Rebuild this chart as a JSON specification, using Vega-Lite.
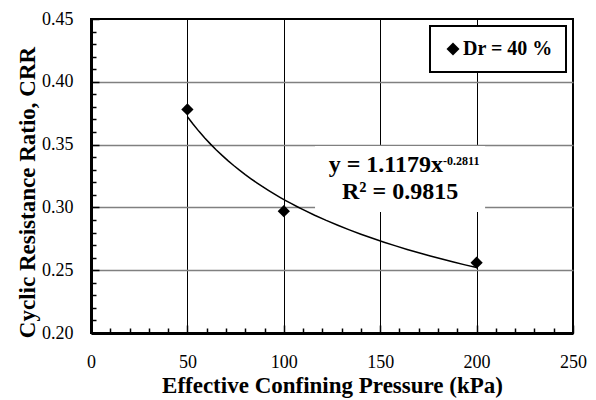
{
  "$schema": "https://vega.github.io/schema/vega-lite/v6.json",
  "autosize": {"type": "none"},
  "padding": {"left": 91, "top": 19, "right": 23, "bottom": 67},
  "width": 482,
  "height": 314,
  "background": "white",
  "config": {
    "view": {"stroke": "black", "strokeWidth": 2},
    "font": "Liberation Serif",
    "legend": {"strokeWidth": 2}
  },
  "datasets": {
    "tests": [
      {"p": 50, "crr": 0.378, "series": "Dr = 40 %"},
      {"p": 100, "crr": 0.297, "series": "Dr = 40 %"},
      {"p": 200, "crr": 0.256, "series": "Dr = 40 %"}
    ],
    "note": [{"label": "fit"}]
  },
  "encoding": {
    "x": {
      "type": "quantitative",
      "scale": {"domain": [0, 250], "nice": false, "zero": false},
      "axis": {
        "title": "Effective Confining Pressure (kPa)",
        "titleFont": "Liberation Serif",
        "titleFontSize": 23,
        "titleFontWeight": "bold",
        "titleColor": "black",
        "titlePadding": 0,
        "values": [0,10,20,30,40,50,60,70,80,90,100,110,120,130,140,150,160,170,180,190,200,210,220,230,240,250],
        "labelExpr": "datum.value % 50 === 0 ? datum.label : ''",
        "labelOverlap": false,
        "labelFlush": false,
        "labelFont": "Liberation Serif",
        "labelFontSize": 18,
        "labelColor": "black",
        "labelPadding": 28,
        "domainColor": "black",
        "domainWidth": 3,
        "tickColor": "black",
        "tickWidth": 1.5,
        "tickSize": {"condition": {"test": "datum.value % 50 === 0", "value": -8}, "value": -5},
        "grid": true,
        "gridColor": "black",
        "gridWidth": 1,
        "gridOpacity": {"condition": {"test": "datum.value % 50 === 0 && datum.value > 0 && datum.value < 250", "value": 1}, "value": 0}
      }
    },
    "y": {
      "type": "quantitative",
      "scale": {"domain": [0.2, 0.45], "nice": false, "zero": false},
      "axis": {
        "title": "Cyclic Resistance Ratio, CRR",
        "titleFont": "Liberation Serif",
        "titleFontSize": 23,
        "titleFontWeight": "bold",
        "titleColor": "black",
        "titlePadding": 2,
        "titleY": 173,
        "values": [0.2,0.21,0.22,0.23,0.24,0.25,0.26,0.27,0.28,0.29,0.3,0.31,0.32,0.33,0.34,0.35,0.36,0.37,0.38,0.39,0.4,0.41,0.42,0.43,0.44,0.45],
        "format": ".2f",
        "labelExpr": "round(datum.value * 100) % 5 === 0 ? datum.label : ''",
        "labelOverlap": false,
        "labelFlush": false,
        "labelFont": "Liberation Serif",
        "labelFontSize": 18,
        "labelColor": "black",
        "labelPadding": 26,
        "domainColor": "black",
        "domainWidth": 3,
        "tickColor": "black",
        "tickWidth": 1.5,
        "tickSize": {"condition": {"test": "round(datum.value * 100) % 5 === 0", "value": -8}, "value": -5},
        "grid": true,
        "gridColor": "#808080",
        "gridWidth": 1.5,
        "gridOpacity": {"condition": {"test": "round(datum.value * 100) % 5 === 0 && datum.value > 0.201 && datum.value < 0.449", "value": 1}, "value": 0}
      }
    }
  },
  "layer": [
    {
      "data": {"name": "note"},
      "mark": {"type": "rect", "fill": "white", "stroke": null},
      "encoding": {
        "x": {"datum": 116.2},
        "x2": {"datum": 204.4},
        "y": {"datum": 0.2963},
        "y2": {"datum": 0.3489}
      }
    },
    {
      "data": {"name": "tests"},
      "transform": [
        {"regression": "crr", "on": "p", "method": "pow", "extent": [50, 200]}
      ],
      "mark": {"type": "line", "color": "black", "strokeWidth": 1.5},
      "encoding": {
        "x": {"field": "p"},
        "y": {"field": "crr"}
      }
    },
    {
      "data": {"name": "tests"},
      "mark": {"type": "point", "filled": true, "color": "black", "size": 150, "opacity": 1},
      "encoding": {
        "x": {"field": "p"},
        "y": {"field": "crr"},
        "shape": {
          "field": "series",
          "type": "nominal",
          "scale": {"range": ["diamond"]},
          "legend": {
            "title": null,
            "orient": "top-right",
            "offset": 7,
            "padding": 13,
            "strokeColor": "black",
            "fillColor": "white",
            "labelFont": "Liberation Serif",
            "labelFontSize": 20,
            "labelFontWeight": "bold",
            "labelColor": "black",
            "labelOffset": 0,
            "symbolSize": 170,
            "symbolFillColor": "black",
            "symbolStrokeColor": "black",
            "symbolStrokeWidth": 0
          }
        }
      }
    },
    {
      "data": {"name": "note"},
      "mark": {"type": "text", "text": "y = 1.1179x", "align": "right", "baseline": "alphabetic", "font": "Liberation Serif", "fontSize": 24, "fontWeight": "bold", "color": "black"},
      "encoding": {"x": {"datum": 182.6}, "y": {"datum": 0.3284}}
    },
    {
      "data": {"name": "note"},
      "mark": {"type": "text", "text": "-0.2811", "align": "left", "baseline": "alphabetic", "dy": -7, "font": "Liberation Serif", "fontSize": 12, "fontWeight": "bold", "color": "black"},
      "encoding": {"x": {"datum": 182.6}, "y": {"datum": 0.3284}}
    },
    {
      "data": {"name": "note"},
      "mark": {"type": "text", "text": "R² = 0.9815", "align": "center", "baseline": "alphabetic", "font": "Liberation Serif", "fontSize": 24, "fontWeight": "bold", "color": "black"},
      "encoding": {"x": {"datum": 160.3}, "y": {"datum": 0.3067}}
    }
  ]
}
